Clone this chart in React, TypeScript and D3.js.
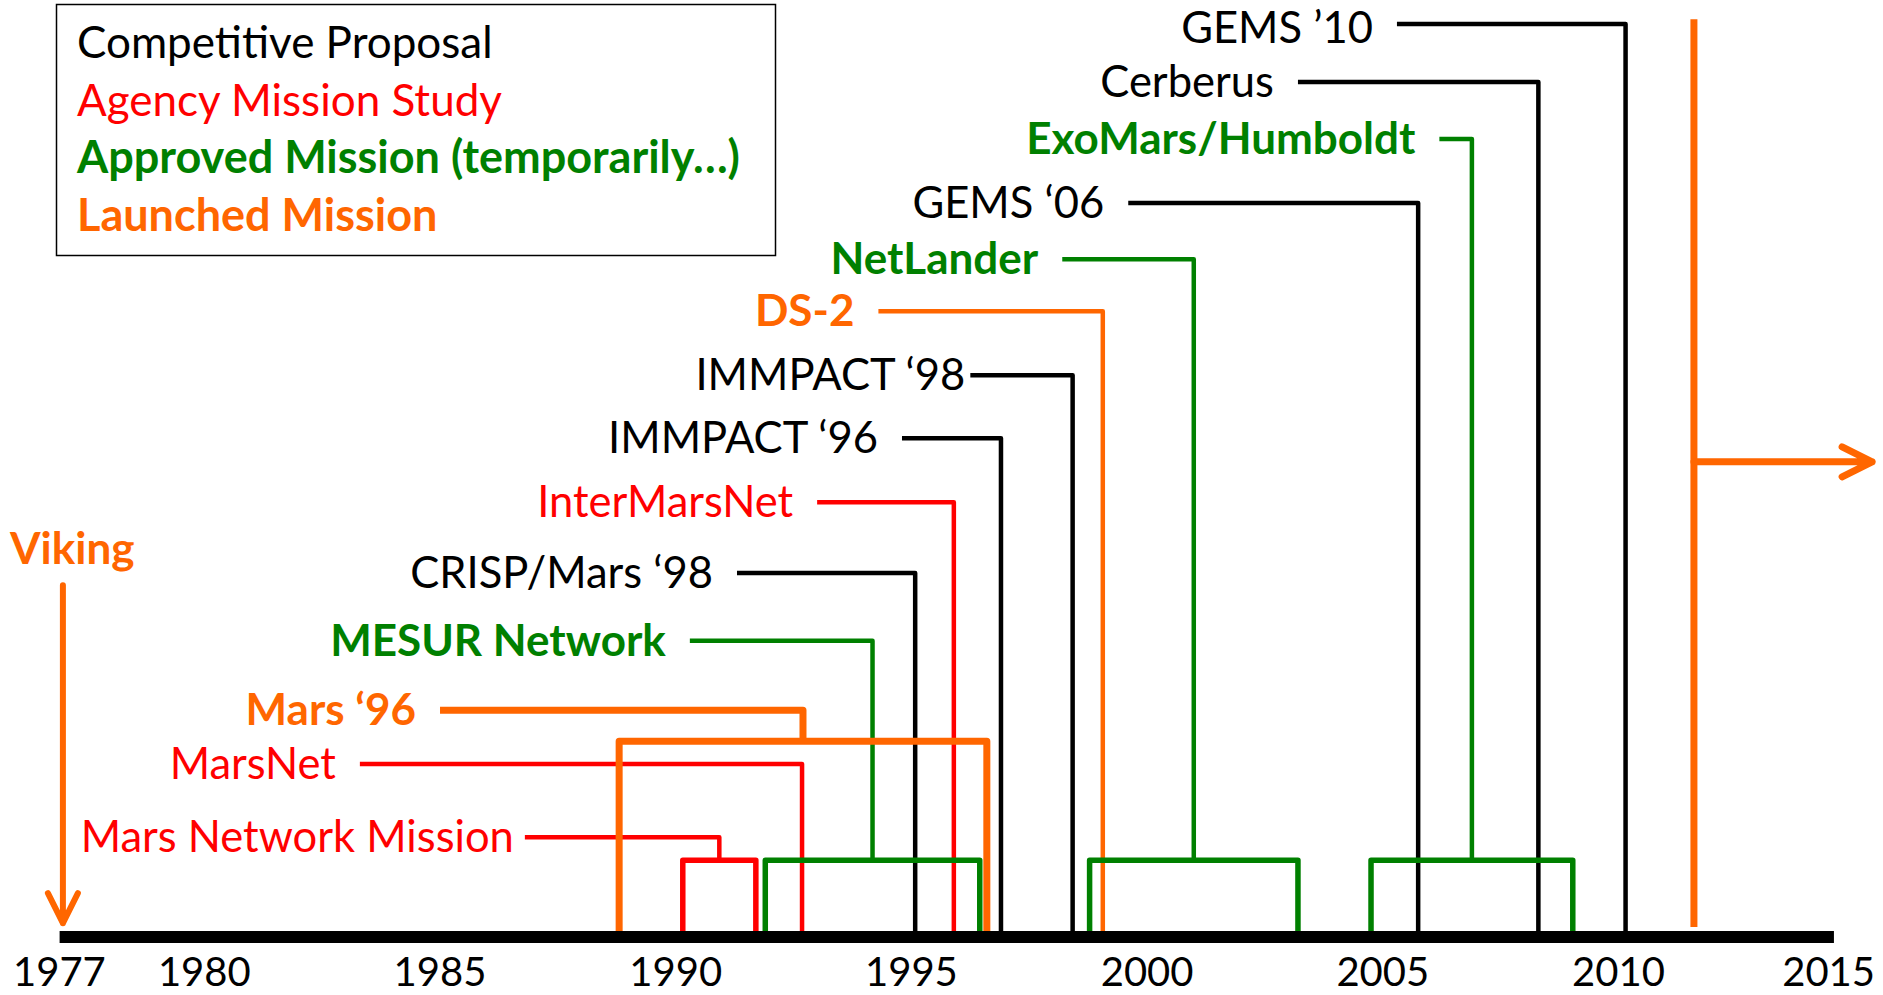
import React from 'react';
import * as d3 from 'd3';

const W = 1883;
const H = 995;

// ---- categories (legend) ----
const categoryNames = [
  'Competitive Proposal',
  'Agency Mission Study',
  'Approved Mission (temporarily…)',
  'Launched Mission',
];
const categoryColors = ['#000000', '#FF0000', '#008000', '#FF6600'];
const categoryBold = [false, false, true, true];

// ---- single-year missions ----
const singleNames = ['MarsNet', 'CRISP/Mars ‘98', 'InterMarsNet', 'IMMPACT ‘96', 'IMMPACT ‘98', 'DS-2', 'GEMS ‘06', 'Cerberus', 'GEMS ’10'];
const singleCats = [1, 0, 1, 0, 0, 3, 0, 0, 0];
const singleYears = [1992.68, 1995.08, 1995.9, 1996.9, 1998.42, 1999.06, 2005.75, 2008.3, 2010.15];
const singleLevels = [2.76, 5.92, 7.09, 8.15, 9.19, 10.25, 12.04, 14.04, 15.0];
const singleLabelYears = [1983.3, 1991.3, 1993.0, 1994.8, 1996.25, 1994.3, 1999.6, 2003.2, 2005.3];

// ---- multi-year (bracketed) missions ----
const rangeNames = ['Mars Network Mission', 'MESUR Network', 'Mars ‘96', 'NetLander', 'ExoMars/Humboldt'];
const rangeCats = [1, 2, 3, 2, 2];
const rangeStarts = [1990.15, 1991.9, 1988.8, 1998.78, 2004.75];
const rangeEnds = [1991.7, 1996.45, 1996.6, 2003.2, 2009.03];
const rangeLevels = [1.55, 4.8, 3.65, 11.11, 13.1];
const rangeBracketLevels = [1.17, 1.17, 3.14, 1.17, 1.17];
const rangeLabelYears = [1986.8, 1990.3, 1985.0, 1998.2, 2006.2];

// ---- Viking & the latest launched mission ----
const vikingYear = 1977;
const vikingTopLevel = 5.72;
const vikingTipLevel = 0.13;
const latestYear = 2011.6;
const latestTopLevel = 15.08;
const latestArrowLevel = 7.76;
const latestArrowEnd = 2015.38;

// ---- axis ----
const axisStart = 1976.93;
const axisEnd = 2014.57;
const tickYears = [1977, 1980, 1985, 1990, 1995, 2000, 2005, 2010, 2015];

const FONT = 'Lato, "Open Sans", sans-serif';

export default function App() {
  const x = d3.scaleLinear().domain([1977, 2015]).range([62.9, 1854.2]);
  const y = d3.scaleLinear().domain([0, 15]).range([931, 24]);
  const axisY = 937;
  const gap = 24;
  const fsReg = 43.5;
  const fsBold = 44;
  const dy = 15;
  const thin = 4.5;
  // label gaps that differ from the default
  const gapOverride: Record<string, number> = { 'IMMPACT ‘98': 5, 'Mars Network Mission': 11 };
  const labelY = (yl: number, fs: number) => Math.max(yl + dy, fs * 0.99);

  const elems: React.ReactNode[] = [];

  // singles
  singleNames.forEach((name, i) => {
    const c = singleCats[i];
    const color = categoryColors[c];
    const fs = categoryBold[c] ? fsBold : fsReg;
    const x0 = x(singleLabelYears[i]);
    const x1 = x(singleYears[i]);
    const yl = y(singleLevels[i]);
    const path = d3.path();
    path.moveTo(x0, yl);
    path.lineTo(x1, yl);
    path.lineTo(x1, y(0));
    const g = gapOverride[name] ?? gap;
    elems.push(
      <path key={'sp' + i} d={path.toString()} fill="none" stroke={color} strokeWidth={thin} strokeLinejoin="round" />
    );
    elems.push(
      <text key={'st' + i} x={x0 - g} y={labelY(yl, fs)} textAnchor="end" fill={color}
        fontWeight={categoryBold[c] ? 700 : 400} fontSize={fs} fontFamily={FONT}>{name}</text>
    );
  });

  // ranges
  rangeNames.forEach((name, i) => {
    const c = rangeCats[i];
    const color = categoryColors[c];
    const fs = categoryBold[c] ? fsBold : fsReg;
    const sw = c === 3 ? 7 : thin;
    const mid = (rangeStarts[i] + rangeEnds[i]) / 2;
    const x0 = x(rangeLabelYears[i]);
    const xm = x(mid);
    const yl = y(rangeLevels[i]);
    const yb = y(rangeBracketLevels[i]);
    const p1 = d3.path();
    p1.moveTo(x0, yl);
    p1.lineTo(xm, yl);
    p1.lineTo(xm, yb);
    const p2 = d3.path();
    p2.moveTo(x(rangeStarts[i]), y(0));
    p2.lineTo(x(rangeStarts[i]), yb);
    p2.lineTo(x(rangeEnds[i]), yb);
    p2.lineTo(x(rangeEnds[i]), y(0));
    const g = gapOverride[name] ?? gap;
    elems.push(
      <path key={'rp1' + i} d={p1.toString()} fill="none" stroke={color} strokeWidth={sw} strokeLinejoin="round" />
    );
    elems.push(
      <path key={'rp2' + i} d={p2.toString()} fill="none" stroke={color} strokeWidth={c === 3 ? sw : 5.5} strokeLinejoin="round" />
    );
    elems.push(
      <text key={'rt' + i} x={x0 - g} y={labelY(yl, fs)} textAnchor="end" fill={color}
        fontWeight={categoryBold[c] ? 700 : 400} fontSize={fs} fontFamily={FONT}>{name}</text>
    );
  });

  // Viking arrow
  const vx = x(vikingYear);
  const vTop = y(vikingTopLevel);
  const vTip = y(vikingTipLevel);
  const vPath = `M${vx},${vTop}L${vx},${vTip}M${vx - 15},${vTip - 30}L${vx},${vTip}L${vx + 15},${vTip - 30}`;

  // latest launched mission line + arrow
  const lx = x(latestYear);
  const lay = y(latestArrowLevel);
  const lxe = x(latestArrowEnd);
  const lPath = `M${lx},${lay}L${lxe},${lay}M${lxe - 30},${lay - 15}L${lxe},${lay}L${lxe - 30},${lay + 15}`;

  return (
    <svg width={W} height={H} style={{ position: 'absolute', left: 0, top: 0, background: '#fff' }}>
      <rect x={0} y={0} width={W} height={H} fill="#fff" />
      {/* legend */}
      <rect x={56.5} y={4.5} width={719} height={251} fill="none" stroke="#000" strokeWidth={1.5} />
      {categoryNames.map((n, i) => (
        <text key={'lg' + i} x={77} y={58 + i * 57.7} fill={categoryColors[i]}
          fontWeight={categoryBold[i] ? 700 : 400} fontSize={categoryBold[i] ? 45 : 44} fontFamily={FONT}>{n}</text>
      ))}

      {elems}

      {/* Viking */}
      <text x={10} y={564} fill={categoryColors[3]} fontWeight={700} fontSize={fsBold} fontFamily={FONT}>Viking</text>
      <path d={vPath} fill="none" stroke={categoryColors[3]} strokeWidth={6} strokeLinecap="round" strokeLinejoin="round" />

      {/* latest launched */}
      <line x1={lx} x2={lx} y1={y(latestTopLevel)} y2={y(0) - 4} stroke={categoryColors[3]} strokeWidth={7} />
      <path d={lPath} fill="none" stroke={categoryColors[3]} strokeWidth={7} strokeLinecap="round" strokeLinejoin="round" />

      {/* axis bar */}
      <rect x={x(axisStart)} y={axisY - 6} width={x(axisEnd) - x(axisStart)} height={12} fill="#000" />
      {tickYears.map((t, i) => {
        const first = i === 0;
        const last = i === tickYears.length - 1;
        return (
          <text key={'tk' + t} x={last ? W - 8 : first ? 13 : x(t)} y={986}
            textAnchor={last ? 'end' : first ? 'start' : 'middle'}
            fill="#000" fontSize={40} fontFamily={FONT}>{t}</text>
        );
      })}
    </svg>
  );
}
